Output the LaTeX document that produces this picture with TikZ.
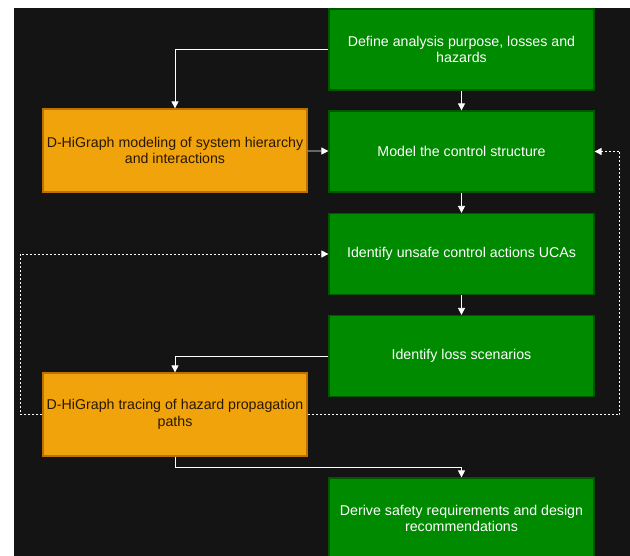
\documentclass[tikz,border=0pt]{standalone}
\usepackage{fontspec}
\setmainfont{Liberation Sans}
\usetikzlibrary{arrows.meta}
\definecolor{bgdark}{HTML}{141414}
\definecolor{stpagreen}{HTML}{008A00}
\definecolor{stpaline}{HTML}{005700}
\definecolor{hgorange}{HTML}{F0A30A}
\definecolor{hgline}{HTML}{BD7000}
\definecolor{hgtext}{HTML}{2A1800}

\begin{document}
\begin{tikzpicture}[x=1pt,y=-1pt]
\tikzstyle{stpa} = [draw=stpaline, fill=stpagreen, text=white, line width=1.2pt, minimum width=265pt, minimum height=81pt, align=center, inner sep=0pt, font=\fontsize{14.2}{16.5}\selectfont]
\tikzstyle{higraph} = [stpa, draw=hgline, fill=hgorange, text=hgtext, minimum width=264pt, minimum height=83pt]
\tikzstyle{flow} = [white, line width=0.8pt, -{Triangle[width=7pt,length=7pt]}]
\tikzstyle{loop} = [flow, dash pattern=on 2pt off 2pt]
\useasboundingbox (0,0) rectangle (630,556);
\fill[white] (0,0) rectangle (630,556);
\fill[bgdark] (14,8) rectangle (630,556);
\node[stpa] (define) at (461.5,49.5) {Define analysis purpose, losses and\\hazards};
\node[stpa] (control) at (461.5,151.5) {Model the control structure};
\node[stpa] (uca) at (461.5,254) {Identify unsafe control actions UCAs};
\node[stpa] (loss) at (461.5,356) {Identify loss scenarios};
\node[stpa] (derive) at (461.5,518.5) {Derive safety requirements and design\\recommendations};
\node[higraph] (model) at (175,150.5) {D-HiGraph modeling of system hierarchy\\and interactions};
\node[higraph] (trace) at (175,414.5) {D-HiGraph tracing of hazard propagation\\paths};
\draw[flow] (define.west) -| (model.north);
\draw[flow] (define) -- (control);
\draw[flow] (model) -- (control);
\draw[flow] (control) -- (uca);
\draw[flow] (uca) -- (loss);
\draw[flow] (loss.west) -| (trace.north);
\draw[flow] (trace.south) -- ++(0,11) -| (derive.north);
\draw[loop] (trace.east) -- ++(312,0) |- (control.east);
\draw[loop] (trace.west) -- ++(-22,0) |- (uca.west);
\end{tikzpicture}
\end{document}
